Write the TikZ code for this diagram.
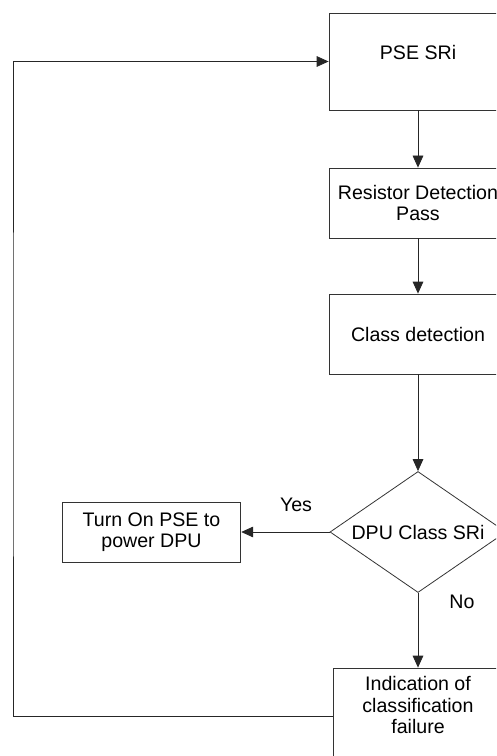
\documentclass[tikz,border=0pt]{standalone}
\usepackage{fontspec}
\setmainfont{Liberation Sans}
\usetikzlibrary{arrows.meta}
\usetikzlibrary{shapes.geometric}

\begin{document}
\begin{tikzpicture}[x=0.75pt, y=-0.75pt, >={Triangle[length=9pt,width=8pt]},
  font=\fontsize{14.7}{16.2}\selectfont,
  flowbox/.style={draw=black!80, line width=0.6pt, align=center, inner sep=2pt},
  flowline/.style={black!85, line width=0.6pt, ->}]
\useasboundingbox (0,0) rectangle (496,756);
\clip (0,0) rectangle (496,756);
% main column
\node[flowbox, minimum width=133.5pt, minimum height=72.75pt, text height=10pt, text depth=12.5pt] (pse) at (418,61.5) {PSE SRi};
\node[flowbox, minimum width=133.5pt, minimum height=52.5pt] (res) at (418,203) {Resistor Detection\\Pass};
\node[flowbox, minimum width=133.5pt, minimum height=60pt] (cls) at (418,334) {Class detection};
\node[flowbox, shape=diamond, aspect=1.45, inner sep=0pt, minimum width=132pt, minimum height=90.75pt] (dpu) at (418,532) {DPU Class SRi};
\node[flowbox, minimum width=134pt, minimum height=45pt] (turn) at (151.5,532) {Turn On PSE to\\power DPU};
\node[flowbox, minimum width=127.5pt, minimum height=72pt] (fail) at (418,716) {Indication of\\classification\\failure\\~};
\coordinate (loop) at (13,400);
\draw[flowline] (pse) -- (res);
\draw[flowline] (res) -- (cls);
\draw[flowline] (cls) -- (dpu);
\draw[flowline] (dpu) -- (turn);
\draw[flowline] (dpu) -- (fail);
\draw[flowline] (fail.west) -| (loop) |- (pse.west);
\node (yes) at (296,505) {Yes};
\node (no) at (462,602) {No};
\end{tikzpicture}
\end{document}
